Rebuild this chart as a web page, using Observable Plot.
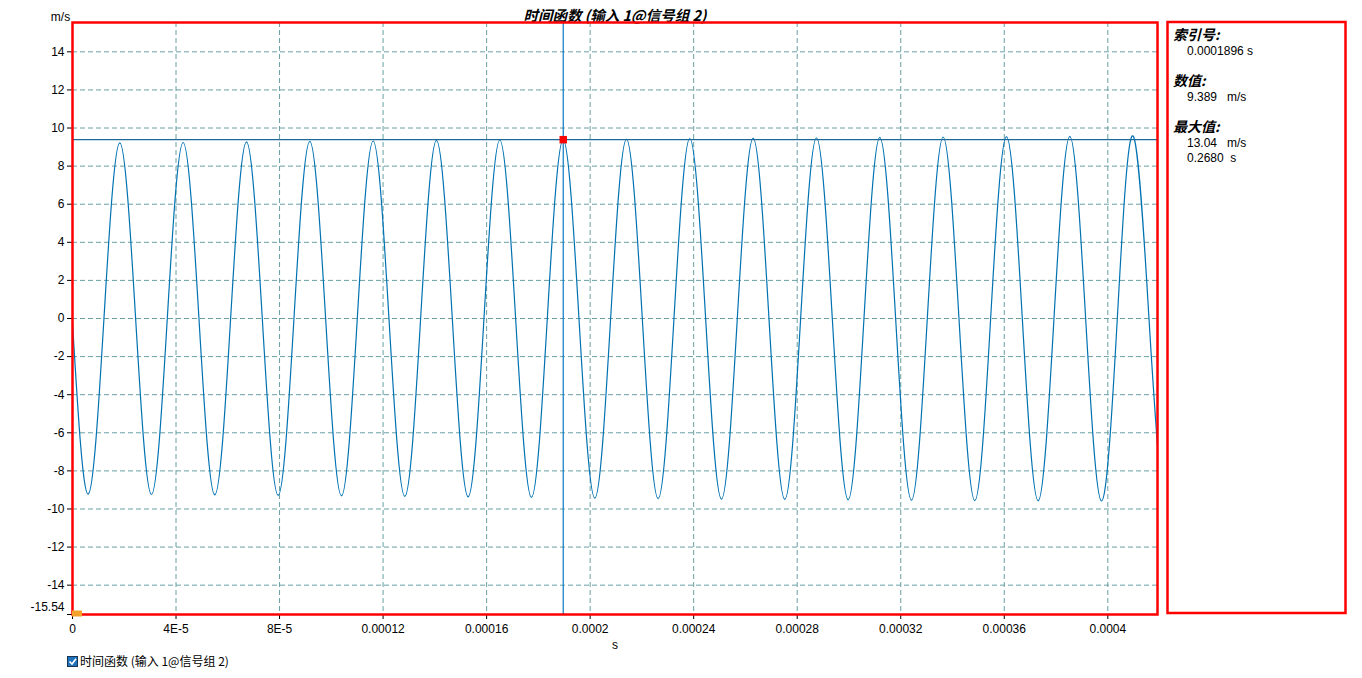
<!DOCTYPE html>
<html>
<head>
<meta charset="utf-8">
<script src="https://cdn.jsdelivr.net/npm/d3@7"></script>
<script src="https://cdn.jsdelivr.net/npm/@observablehq/plot@0.6"></script>
<style>
  html, body { margin: 0; padding: 0; background: #fff; }
  #chart { position: relative; width: 1362px; height: 678px; }
</style>
</head>
<body>
<div id="chart"></div>
<script>
// ---- data ----
const titleText = "时间函数 (输入 1@信号组 2)";
const yUnit = "m/s";
const xUnit = "s";

const xDomain = [0, 0.0004192];
const yDomain = [-15.54, 15.54];

const yTicks = [-14, -12, -10, -8, -6, -4, -2, 0, 2, 4, 6, 8, 10, 12, 14];
const yMinLabel = -15.54;
const xTicks = [0, 0.00004, 0.00008, 0.00012, 0.00016, 0.0002, 0.00024, 0.00028, 0.00032, 0.00036, 0.0004];
const xTickLabels = ["0", "4E-5", "8E-5", "0.00012", "0.00016", "0.0002", "0.00024", "0.00028", "0.00032", "0.00036", "0.0004"];

// signal: start / end samples, extrema and zero crossings (seconds, m/s)
const startPoint = [0, -0.23];
const endPoint = [0.0004192, -6.69];
const troughT = [0.6035e-5, 3.0505e-5, 5.4975e-5, 7.9445e-5, 10.3915e-5, 12.8385e-5, 15.2855e-5, 17.7325e-5,
  20.1795e-5, 22.6265e-5, 25.0735e-5, 27.5205e-5, 29.9675e-5, 32.4145e-5, 34.8615e-5, 37.3085e-5, 39.7555e-5];
const troughV = [-9.22, -9.24, -9.26, -9.29, -9.31, -9.34, -9.36, -9.39, -9.43, -9.46, -9.48, -9.50, -9.52, -9.54, -9.56, -9.57, -9.58];
const peakT = [1.827e-5, 4.274e-5, 6.721e-5, 9.168e-5, 11.615e-5, 14.062e-5, 16.509e-5, 18.956e-5,
  21.403e-5, 23.850e-5, 26.297e-5, 28.744e-5, 31.191e-5, 33.638e-5, 36.085e-5, 38.532e-5, 40.979e-5];
const peakV = [9.22, 9.24, 9.27, 9.30, 9.32, 9.35, 9.37, 9.389, 9.42, 9.45, 9.47, 9.49, 9.51, 9.53, 9.55, 9.56, 9.58];
const zeroT = [1.2153e-5, 2.4388e-5, 3.6623e-5, 4.8858e-5, 6.1093e-5, 7.3328e-5, 8.5563e-5, 9.7798e-5,
  11.0033e-5, 12.2268e-5, 13.4503e-5, 14.6738e-5, 15.8973e-5, 17.1208e-5, 18.3443e-5, 19.5678e-5,
  20.7913e-5, 22.0148e-5, 23.2383e-5, 24.4618e-5, 25.6853e-5, 26.9088e-5, 28.1323e-5, 29.3558e-5,
  30.5793e-5, 31.8028e-5, 33.0263e-5, 34.2498e-5, 35.4733e-5, 36.6968e-5, 37.9203e-5, 39.1438e-5,
  40.3673e-5, 41.5908e-5];

// cursor
const cursorT = 0.0001896;
const cursorV = 9.389;

// info panel
const panelItems = [
  { label: "索引号:", lines: ["0.0001896 s"] },
  { label: "数值:", lines: ["9.389   m/s"] },
  { label: "最大值:", lines: ["13.04   m/s", "0.2680  s"] }
];
const legendLabel = "时间函数 (输入 1@信号组 2)";

// ---- build table ----
const signal = [];
signal.push({ t: startPoint[0], v: startPoint[1] });
troughT.forEach((t, i) => signal.push({ t, v: troughV[i] }));
peakT.forEach((t, i) => signal.push({ t, v: peakV[i] }));
zeroT.forEach(t => signal.push({ t, v: 0 }));
signal.push({ t: endPoint[0], v: endPoint[1] });
signal.sort((a, b) => a.t - b.t);

const gridStyle = { stroke: "#6aa0a4", strokeOpacity: 1, strokeDasharray: "5,3", strokeWidth: 1 };
const FONT = "'Liberation Sans', Arial, 'Noto Sans CJK SC', sans-serif";
const CJK = "'Noto Sans CJK SC', 'Liberation Sans', Arial, sans-serif";

const chart = Plot.plot({
  width: 1362,
  height: 678,
  marginLeft: 72,
  marginRight: 205,
  marginTop: 22,
  marginBottom: 64,
  style: { fontFamily: FONT, fontSize: "12px", color: "#000", background: "#fff" },
  x: { domain: xDomain },
  y: { domain: yDomain },
  marks: [
    Plot.gridY(yTicks, gridStyle),
    Plot.gridX(xTicks.slice(1), gridStyle),
    Plot.line(signal, { x: "t", y: "v", curve: "natural", stroke: "#0072b2", strokeWidth: 1.2 }),
    Plot.ruleY([cursorV], { stroke: "#1d6a99", strokeWidth: 1.2 }),
    Plot.ruleX([cursorT], { stroke: "#0a79bf", strokeWidth: 1.2 }),
    Plot.axisY(yTicks, { tickSize: 5, tickPadding: 3, tickFormat: d => String(d), label: null, stroke: "#000" }),
    Plot.axisY([yMinLabel], { tickSize: 5, text: null, label: null, stroke: "#000" }),
    Plot.text([yMinLabel], { frameAnchor: "left", y: d => d, dx: -8, dy: -7, textAnchor: "end", text: () => "-15.54", fill: "#000" }),
    Plot.axisX(xTicks, { tickSize: 5, tickPadding: 5, tickFormat: d => xTickLabels[xTicks.indexOf(d)], label: null, stroke: "#000" }),
    Plot.text([xUnit], { frameAnchor: "bottom", dy: 34, fill: "#000" }),
    Plot.text([yUnit], { frameAnchor: "top-left", dx: -12, dy: -10, textAnchor: "middle", fill: "#000" }),
    Plot.text([titleText], { frameAnchor: "top", dy: -12, fontWeight: "bold", fontStyle: "italic", fontSize: 14.5, fill: "#000",
      fontFamily: CJK }),
    Plot.frame({ stroke: "#ff0000", strokeWidth: 2.5 }),
    Plot.dot([{ t: cursorT, v: cursorV }], { x: "t", y: "v", symbol: "square", r: 4.2, fill: "#ff0000", stroke: "none" })
  ]
});

document.getElementById("chart").appendChild(chart);

const svg = d3.select(chart);
const xs = chart.scale("x"), ys = chart.scale("y");

// orange marker at origin
svg.append("rect")
  .attr("x", xs.apply(xDomain[0]))
  .attr("y", ys.apply(yDomain[0]) - 3.5)
  .attr("width", 10).attr("height", 6)
  .attr("fill", "#f3a22c");

// info panel
const panel = svg.append("g").attr("text-anchor", "start");
panel.append("rect")
  .attr("x", 1167.5).attr("y", 22).attr("width", 178).attr("height", 591)
  .attr("fill", "none").attr("stroke", "#ff0000").attr("stroke-width", 2.5);
let yy = 35.5;
panelItems.forEach(item => {
  panel.append("text")
    .attr("x", 1173).attr("y", yy).attr("dy", "0.35em")
    .attr("text-anchor", "start")
    .attr("font-family", CJK)
    .attr("font-size", 14).attr("font-weight", "bold").attr("font-style", "italic")
    .attr("fill", "#000").text(item.label);
  yy += 15;
  item.lines.forEach(line => {
    panel.append("text")
      .attr("x", 1187).attr("y", yy).attr("dy", "0.35em")
      .attr("text-anchor", "start")
      .attr("font-family", FONT).attr("font-size", 12)
      .attr("fill", "#000").style("white-space", "pre")
      .text(line);
    yy += 15.5;
  });
  yy += 15.5;
});

// legend
const lg = svg.append("g").attr("text-anchor", "start");
lg.append("rect").attr("x", 67.5).attr("y", 656.5).attr("width", 10).attr("height", 10)
  .attr("fill", "#1f73bd").attr("stroke", "#1b3550").attr("stroke-width", 1);
lg.append("path").attr("d", "M69.5,661.5 L72,664 L76,658.8")
  .attr("fill", "none").attr("stroke", "#fff").attr("stroke-width", 1.6);
lg.append("text").attr("x", 80).attr("y", 661.5).attr("dy", "0.35em")
  .attr("text-anchor", "start")
  .attr("font-family", CJK).attr("font-size", 12)
  .attr("fill", "#000").text(legendLabel);
</script>
</body>
</html>
